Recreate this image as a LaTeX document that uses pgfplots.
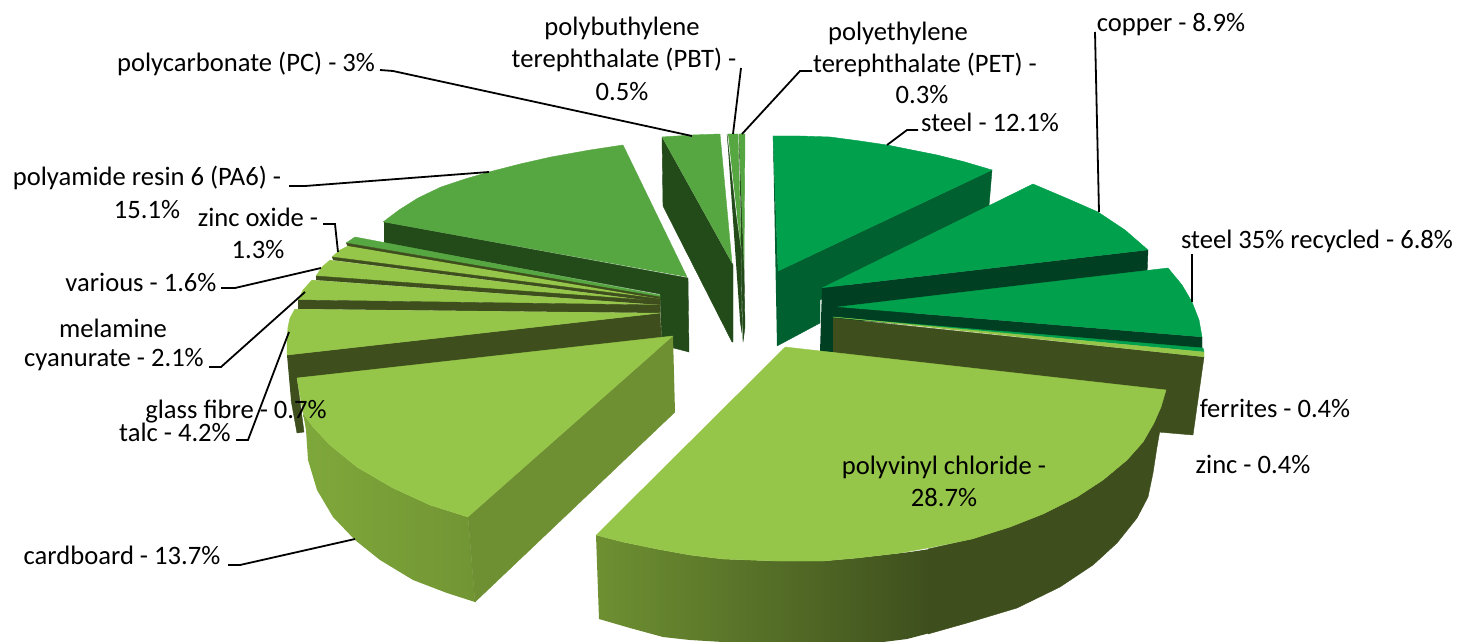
\documentclass[border=0pt]{standalone}
\usepackage{pgfplots}
\pgfplotsset{compat=1.18}
\usepackage{fontspec}
\setmainfont{Carlito}
\definecolor{lime}{HTML}{96C649}
\definecolor{olive}{HTML}{3E4F1D}
\definecolor{oliveB}{HTML}{6E9032}
\definecolor{oliveC}{HTML}{7FA83B}
\definecolor{leaf}{HTML}{56A641}
\definecolor{leafD}{HTML}{234A19}
\definecolor{emer}{HTML}{00A04D}
\definecolor{emerD}{HTML}{00602F}
\definecolor{emerK}{HTML}{003F22}
\tikzset{
 face/.style={draw=#1,fill=#1,line width=0.2pt,mark=none},
 lead/.style={draw=black,line width=0.9pt,mark=none},
 lab/.style={font=\fontsize{13.3}{15}\selectfont,inner sep=0pt,text=black}
}
\begin{document}
\begin{tikzpicture}
\useasboundingbox (0,0) rectangle (728.5pt,321pt);
\begin{axis}[at={(0,0)},anchor=south west,scale only axis,width=728.5pt,height=321pt,xmin=0,xmax=1457,ymin=0,ymax=642,y dir=reverse,hide axis]
% polyamide resin 6 (PA6) 15.1
\addplot[face=leafD] coordinates {(384,222)(688,278)(689,352)(662,345)(660,294)(384,243)};
\addplot[face=leaf] coordinates {(383,222)(399,210)(418,198)(441,187)(465,179)(489,172)(520,164)(551,157)(590,150)(623,145)(687,277)};
% polycarbonate (PC) 3
\addplot[face=leafD] coordinates {(662,137)(663,206)(732,342)(733,342)(733,265)(732,263)};
\addplot[face=leaf] coordinates {(662,137)(692,135)(720,134)(732,263)};
% PBT 0.5
\addplot[face=leafD] coordinates {(727,134)(736,215)(741,250)(742,333)(740,320)};
\addplot[face=leaf] coordinates {(728,134)(738,134)(741,245)(737,215)};
% PET 0.3
\addplot[face=leafD] coordinates {(739,134)(744,267)(745,327)(743,342)(741,233)};
\addplot[face=leaf] coordinates {(739,134)(745,134)(744,267)};
% steel 12.1
\addplot[face=emerD] coordinates {(773,136)(778,271)(992,170)(989,206)(820,300)(820,323)(777,346)};
\addplot[face=emer] coordinates {(773,136)(800,136)(830,137)(860,141)(887,145)(912,150)(937,155)(965,162)(992,170)(778,271)};
% copper 8.9
\addplot[face=emerK] coordinates {(822,288)(1148,250)(1147,275)(836,325)(833,352)(820,352)};
\addplot[face=emer] coordinates {(822,288)(1033,184)(1066,198)(1098,212)(1125,230)(1148,250)};
% steel 35% recycled 6.8
\addplot[face=emerK] coordinates {(838,307)(1202,337)(1202,350)(833,318)};
\addplot[face=emer] coordinates {(838,307)(1168,268)(1182,285)(1192,302)(1199,320)(1202,337)};
% ferrites 0.4
\addplot[face=emer] coordinates {(1000,331)(1203,348)(1204,352)(833,317)};
% zinc 0.4 wall and face
\addplot[face=olive] coordinates {(833,318)(1204,357)(1193,435)(1158,432)(1000,420)(833,353)};
\addplot[face=lime] coordinates {(833,317)(1204,352)(1204,357)};
% thin wedges
\addplot[face=leaf] coordinates {(346,243)(355,237)(660,295)(660,298)};
\addplot[face=olive] coordinates {(346,243)(660,297)(660,300)(348,247)};
\addplot[face=lime] coordinates {(348,246)(340,250)(332,257)(660,299)};
\addplot[face=olive] coordinates {(332,257)(660,299)(660,302)(333,260)};
\addplot[face=lime] coordinates {(330,260)(322,267)(316,276)(660,302)};
\addplot[face=olive] coordinates {(316,276)(660,301)(660,305)(316,280)};
\addplot[face=lime] coordinates {(312,280)(303,290)(298,300)(660,305)};
\addplot[face=olive] coordinates {(298,300)(660,305)(660,313)(298,309)};
% talc 4.2
\addplot[face=olive] coordinates {(287,355)(660,313)(662,350)(297,378)(304,432)(297,433)(291,400)};
\addplot[face=lime] coordinates {(295,309)(290,318)(288,327)(287,341)(287,355)(660,313)};
% cardboard 13.7
\addplot[draw=none,left color=oliveC,right color=oliveB!80!oliveC,mark=none] coordinates {(303,413)(313,427)(330,445)(357,467)(393,488)(430,505)(468,517)(475,602)(447,593)(413,580)(380,560)(355,540)(333,517)(317,490)(308,460)(306,430)};
\addplot[face=oliveB] coordinates {(673,336)(468,517)(475,602)(675,412)};
\addplot[face=lime] coordinates {(673,336)(297,378)(303,413)(313,427)(330,445)(357,467)(393,488)(430,505)(468,517)};
% polyvinyl chloride 28.7
\addplot[draw=none,left color=oliveB,right color=olive,mark=none] coordinates {(596,535)(623,542)(657,549)(690,555)(723,559)(777,561)(823,561)(857,558)(910,552)(930,549)(930,633)(907,639)(883,642)(723,642)(690,640)(663,637)(630,628)(599,619)};
\addplot[face=olive] coordinates {(928,549)(972,539)(1010,527)(1043,514)(1077,497)(1103,480)(1127,460)(1143,442)(1154,423)(1166,390)(1160,430)(1157,447)(1153,473)(1148,497)(1137,518)(1117,543)(1093,565)(1060,587)(1017,608)(967,623)(928,634)};
\addplot[face=lime] coordinates {(785,347)(1166,390)(1161,407)(1154,423)(1143,442)(1127,460)(1103,480)(1077,497)(1043,514)(1010,527)(972,539)(933,547)(900,553)(857,558)(823,561)(777,561)(723,559)(690,555)(657,549)(623,542)(596,535)};
% leaders
\addplot[lead] coordinates {(380,70)(393,71)(692,136)};
\addplot[lead] coordinates {(741,68)(733,134)};
\addplot[lead] coordinates {(812,71)(800,71)(742,134)};
\addplot[lead] coordinates {(918,130)(907,130)(887,145)};
\addplot[lead] coordinates {(1095,32)(1099,212)};
\addplot[lead] coordinates {(1192,254)(1192,302)};
\addplot[lead] coordinates {(289,186)(305,186)(489,172)};
\addplot[lead] coordinates {(323,224)(335,224)(338,252)};
\addplot[lead] coordinates {(221,288)(235,288)(321,268)};
\addplot[lead] coordinates {(209,367)(221,367)(305,292)};
\addplot[lead] coordinates {(236,440)(248,440)(289,332)};
\addplot[lead] coordinates {(228,565)(240,565)(355,539)};
% labels
\node[lab] at (axis cs:622,28) {polybuthylene};
\node[lab] at (axis cs:624,60) {terephthalate (PBT) -};
\node[lab] at (axis cs:622,92) {0.5\%};
\node[lab] at (axis cs:898,33) {polyethylene};
\node[lab] at (axis cs:925,65) {terephthalate (PET) -};
\node[lab] at (axis cs:922,95) {0.3\%};
\node[lab] at (axis cs:1171,25) {copper - 8.9\%};
\node[lab] at (axis cs:990,122) {steel - 12.1\%};
\node[lab] at (axis cs:1317,241) {steel 35\% recycled - 6.8\%};
\node[lab] at (axis cs:1275,408) {ferrites - 0.4\%};
\node[lab] at (axis cs:1253,464) {zinc - 0.4\%};
\node[lab] at (axis cs:944,467) {polyvinyl chloride -};
\node[lab] at (axis cs:944,498) {28.7\%};
\node[lab] at (axis cs:246,64) {polycarbonate (PC) - 3\%};
\node[lab] at (axis cs:147,178) {polyamide resin 6 (PA6) -};
\node[lab] at (axis cs:147,210) {15.1\%};
\node[lab] at (axis cs:258,217) {zinc oxide -};
\node[lab] at (axis cs:258,250) {1.3\%};
\node[lab] at (axis cs:141,282) {various - 1.6\%};
\node[lab] at (axis cs:113,328) {melamine};
\node[lab] at (axis cs:114,360) {cyanurate - 2.1\%};
\node[lab] at (axis cs:236,412) {glass fibre - 0.7\%};
\node[lab] at (axis cs:175,432) {talc - 4.2\%};
\node[lab] at (axis cs:122,555) {cardboard - 13.7\%};
\end{axis}
\end{tikzpicture}
\end{document}
